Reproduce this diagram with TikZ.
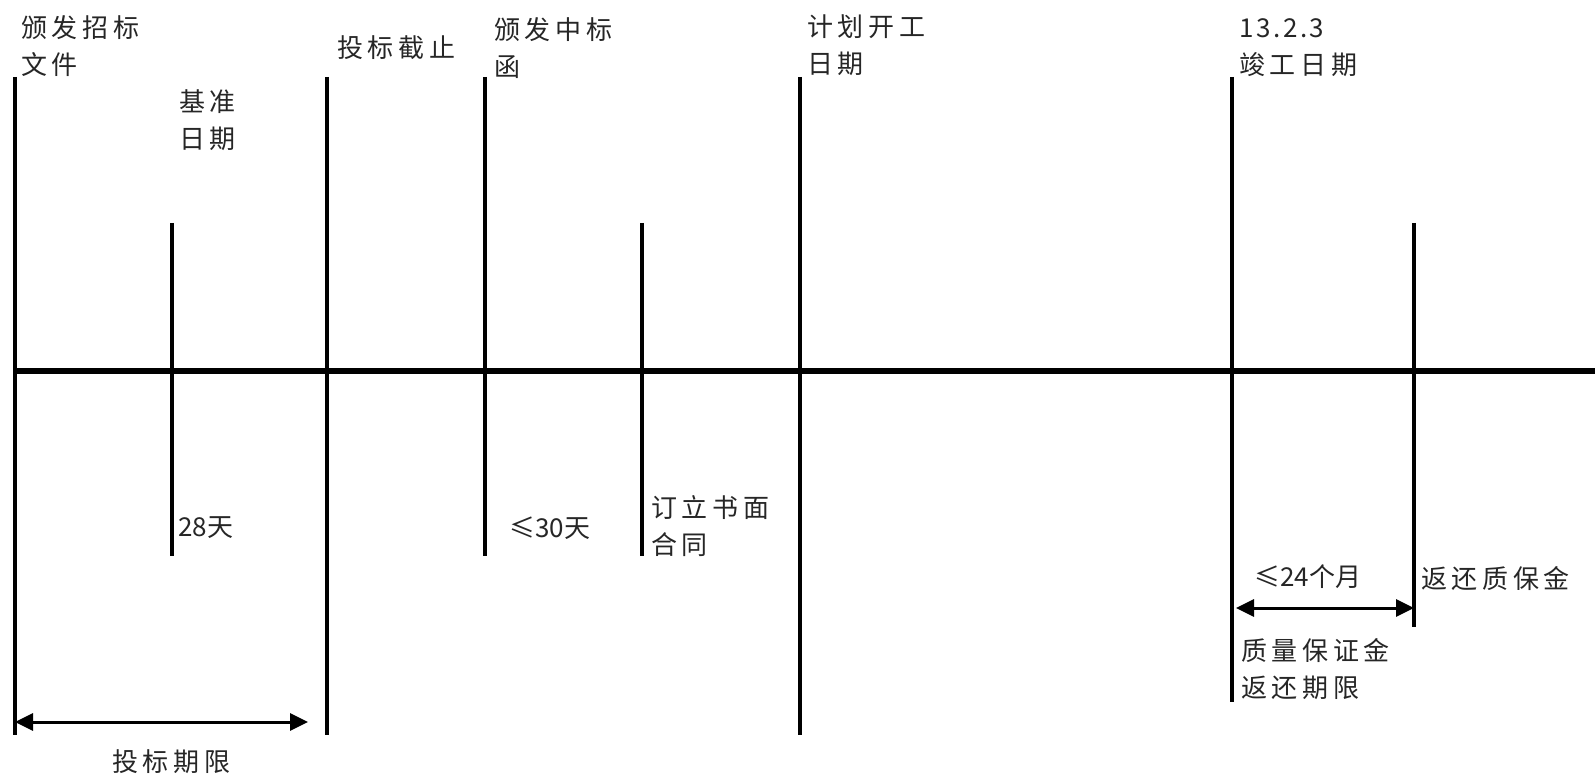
\documentclass[tikz,border=0pt]{standalone}
\usepackage{fontspec}
\newfontfamily\cjk{Noto Sans CJK SC}
\usetikzlibrary{arrows.meta}
\tikzset{
  vline/.style={line width=3.2pt},
  axis/.style={line width=5pt},
  span/.style={line width=3pt,{Triangle[length=18pt,width=17pt]}-{Triangle[length=18pt,width=17pt]}},
  lbl/.style={anchor=base west,inner sep=0pt,align=left,text=black!85,
    font=\cjk\fontsize{26}{37}\selectfont\addfontfeature{LetterSpace=18}},
  num/.style={anchor=base west,inner sep=0pt,text=black!85,
    font=\cjk\fontsize{26}{37}\selectfont},
}
\begin{document}
\begin{tikzpicture}[x=1pt,y=-1pt]
\useasboundingbox (0,0) rectangle (1595,775);
% axis
\coordinate (a0) at (15,371);
\coordinate (a1) at (1595,371);
\draw[axis] (a0) -- (a1);
% vertical lines
\coordinate (t1) at (15,77);    \coordinate (b1) at (15,735);
\coordinate (t2) at (172,223);  \coordinate (b2) at (172,556);
\coordinate (t3) at (327,77);   \coordinate (b3) at (327,735);
\coordinate (t4) at (485,77);   \coordinate (b4) at (485,556);
\coordinate (t5) at (642,223);  \coordinate (b5) at (642,556);
\coordinate (t6) at (800,77);   \coordinate (b6) at (800,735);
\coordinate (t7) at (1232,77);  \coordinate (b7) at (1232,702);
\coordinate (t8) at (1414,223); \coordinate (b8) at (1414,627);
\foreach \i in {1,...,8} {\draw[vline] (t\i) -- (b\i);}
% spans
\coordinate (s1a) at (15,722);  \coordinate (s1b) at (308,722);
\draw[span] (s1a) -- (s1b);
\coordinate (s2a) at (1236,608); \coordinate (s2b) at (1414,608);
\draw[span] (s2a) -- (s2b);
% labels (multi-line nodes: base = last line)
\node[lbl] (l1) at (21,75) {颁发招标\\文件};
\node[lbl] (l2) at (179,149) {基准\\日期};
\node[lbl] (l3) at (337,58) {投标截止};
\node[lbl] (l4) at (494,77) {颁发中标\\函};
\node[lbl] (l5) at (807,74) {计划开工\\日期};
\node[lbl] (l6) at (1239,75) {{\addfontfeature{LetterSpace=10}13.2.3}\\竣工日期};
\node[num] (l7) at (178,536) {28天};
\node[num] (l8) at (509,537) {≤30天};
\node[lbl] (l9) at (651,554) {订立书面\\合同};
\node[num] (l10) at (1254,586) {≤24个月};
\node[lbl] (l11) at (1421,588) {返还质保金};
\node[lbl] (l12) at (1241,697) {质量保证金\\返还期限};
\node[lbl] (l13) at (112,771) {投标期限};
\end{tikzpicture}
\end{document}
